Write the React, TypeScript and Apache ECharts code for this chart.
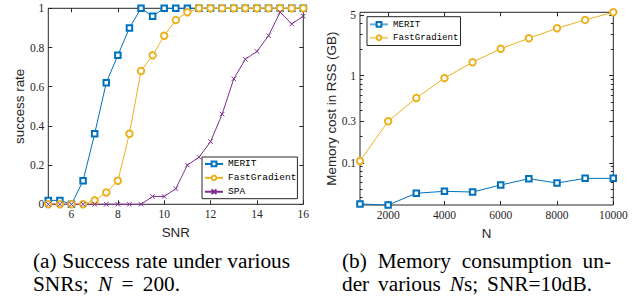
import React, { useEffect, useRef } from 'react';
import * as echarts from 'echarts';

// ---------- data ----------
const SNR = [5, 5.5, 6, 6.5, 7, 7.5, 8, 8.5, 9, 9.5, 10, 10.5, 11, 11.5, 12, 12.5, 13, 13.5, 14, 14.5, 15, 15.5, 16];
const MERIT_RATE = [0.02, 0.02, 0, 0.12, 0.36, 0.62, 0.76, 0.9, 1, 0.96, 1, 1, 1, 1, 1, 1, 1, 1, 1, 1, 1, 1, 1];
const FG_RATE = [0, 0, 0, 0, 0.02, 0.06, 0.12, 0.36, 0.68, 0.76, 0.86, 0.94, 0.98, 1, 1, 1, 1, 1, 1, 1, 1, 1, 1];
const SPA_RATE = [0, 0, 0, 0, 0, 0, 0, 0, 0, 0.04, 0.04, 0.08, 0.2, 0.24, 0.32, 0.46, 0.64, 0.74, 0.78, 0.86, 0.98, 0.92, 0.96];
const SNR_TICKS = [6, 8, 10, 12, 14, 16];

const NS = [1000, 2000, 3000, 4000, 5000, 6000, 7000, 8000, 9000, 10000];
const MERIT_MEM = [0.0336, 0.0327, 0.0446, 0.047, 0.0461, 0.0555, 0.0656, 0.0585, 0.0662, 0.0662];
const FG_MEM = [0.1045, 0.3, 0.555, 0.94, 1.43, 2.04, 2.7, 3.51, 4.38, 5.36];
const N_TICKS = [2000, 4000, 6000, 8000, 10000];
const MEM_TICKS = [0.1, 0.3, 1, 5];
const MEM_MINOR_TICKS = [0.04, 0.05, 0.06, 0.07, 0.08, 0.09, 0.2, 0.4, 0.5, 0.6, 0.7, 0.8, 0.9, 2, 3, 4];

const NAMES = ['MERIT', 'FastGradient', 'SPA'];
// words of each caption line; *…* marks italic (math) text
const CAPTION_A1 = ['(a)', 'Success', 'rate', 'under', 'various'];
const CAPTION_A2 = ['SNRs;', '*N*', '=', '200.'];
const CAPTION_B1 = ['(b)', 'Memory', 'consumption', 'un-'];
const CAPTION_B2 = ['der', 'various', '*N*s;', 'SNR=10dB.'];

// ---------- style ----------
const AXIS = '#262626';
const SERIF = 'Liberation Serif';
const SANS = 'Liberation Sans';
const MONO = 'Liberation Mono';
const BLUE = '#0072BD';
const YELLOW = '#EDB120';
const PURPLE = '#7E2F8E';
const X_MARK = 'path://M0,0L10,10M10,0L0,10';
const CAP_SIZE = 21.3;

const lg = (v: number) => Math.log10(v);

function justify(words: string[], x0: number, x1: number, y: number) {
  const ctx = document.createElement('canvas').getContext('2d')!;
  const measure = (t: string, italic: boolean) => {
    ctx.font = `${italic ? 'italic ' : ''}${CAP_SIZE}px "${SERIF}"`;
    return ctx.measureText(t).width;
  };
  const parsed = words.map((w) => {
    const parts = w.split('*');
    const segs = parts.map((t, i) => ({ t, it: i % 2 === 1 })).filter((s) => s.t.length > 0);
    const width = segs.reduce((a, s) => a + measure(s.t, s.it), 0);
    const text = segs.map((s) => `{${s.it ? 'i' : 'r'}|${s.t}}`).join('');
    return { width, text };
  });
  const total = parsed.reduce((a, p) => a + p.width, 0);
  const gap = (x1 - x0 - total) / (words.length - 1);
  let x = x0;
  return parsed.map((p) => {
    const el = {
      type: 'text',
      x,
      y,
      style: {
        text: p.text,
        align: 'left',
        verticalAlign: 'middle',
        rich: {
          r: { fontFamily: SERIF, fontSize: CAP_SIZE, fill: '#000' },
          i: { fontFamily: SERIF, fontSize: CAP_SIZE, fontStyle: 'italic', fill: '#000' },
        },
      },
    };
    x += p.width + gap;
    return el;
  });
}

const tick = (len: number, values: number[]) => ({
  show: true,
  inside: true,
  length: len,
  customValues: values,
  lineStyle: { color: AXIS, width: 1 },
});

const labelStyle = { fontFamily: SERIF, fontSize: 11.5, color: AXIS, margin: 4 };
const nameStyle = { fontFamily: SANS, fontSize: 13.4, color: AXIS };
const noLine = { show: false, onZero: false };

export default function App() {
  const ref = useRef<HTMLDivElement>(null);

  useEffect(() => {
    if (!ref.current) return;
    const chart = echarts.init(ref.current, null, { renderer: 'svg' });

    const G1 = { left: 48.3, top: 8.3, width: 255, height: 196 };
    const G2 = { left: 360, top: 12.3, width: 253.3, height: 192.7 };
    const memMin = lg(Math.min(...MERIT_MEM, ...FG_MEM));
    const memMax = lg(Math.max(...MERIT_MEM, ...FG_MEM));
    const memFmt = (v: number) => String(Number(Math.pow(10, v).toPrecision(2)));

    const baseAxis = { type: 'value', axisLine: noLine, splitLine: { show: false } };

    const option: any = {
      animation: false,
      backgroundColor: '#fff',
      grid: [
        { ...G1, show: true, borderColor: AXIS, borderWidth: 1, containLabel: false, outerBoundsMode: 'none' },
        { ...G2, show: true, borderColor: AXIS, borderWidth: 1, containLabel: false, outerBoundsMode: 'none' },
        { ...G2, show: false, containLabel: false, outerBoundsMode: 'none' },
      ],
      xAxis: [
        {
          ...baseAxis, gridIndex: 0, position: 'bottom', min: 5, max: 16,
          axisTick: tick(4, SNR_TICKS), axisLabel: { ...labelStyle, customValues: SNR_TICKS },
          name: 'SNR', nameLocation: 'middle', nameGap: 22, nameTextStyle: nameStyle,
        },
        { ...baseAxis, gridIndex: 0, position: 'top', min: 5, max: 16, axisTick: tick(4, SNR_TICKS), axisLabel: { show: false } },
        {
          ...baseAxis, gridIndex: 1, position: 'bottom', min: 1000, max: 10000,
          axisTick: tick(4, N_TICKS),
          axisLabel: { ...labelStyle, customValues: N_TICKS, formatter: (v: number) => String(v) },
          name: 'N', nameLocation: 'middle', nameGap: 22, nameTextStyle: nameStyle,
        },
        { ...baseAxis, gridIndex: 1, position: 'top', min: 1000, max: 10000, axisTick: tick(4, N_TICKS), axisLabel: { show: false } },
        { ...baseAxis, gridIndex: 2, show: false, min: 0, max: 1 },
      ],
      yAxis: [
        {
          ...baseAxis, gridIndex: 0, position: 'left', min: 0, max: 1, interval: 0.2,
          axisTick: { show: true, inside: true, length: 4, lineStyle: { color: AXIS } },
          axisLabel: { ...labelStyle },
          name: 'success rate', nameLocation: 'middle', nameGap: 21, nameTextStyle: nameStyle,
        },
        {
          ...baseAxis, gridIndex: 0, position: 'right', min: 0, max: 1, interval: 0.2,
          axisTick: { show: true, inside: true, length: 4, lineStyle: { color: AXIS } }, axisLabel: { show: false },
        },
        {
          ...baseAxis, gridIndex: 1, position: 'left', min: memMin, max: memMax,
          axisTick: tick(4, MEM_TICKS.map(lg)),
          axisLabel: { ...labelStyle, customValues: MEM_TICKS.map(lg), formatter: memFmt },
          name: 'Memory cost in RSS (GB)', nameLocation: 'middle', nameGap: 20, nameTextStyle: nameStyle,
        },
        {
          ...baseAxis, gridIndex: 1, position: 'right', min: memMin, max: memMax,
          axisTick: tick(4, MEM_TICKS.map(lg)), axisLabel: { show: false },
        },
        {
          ...baseAxis, gridIndex: 2, position: 'left', min: memMin, max: memMax,
          axisTick: tick(2.5, MEM_MINOR_TICKS.map(lg)), axisLabel: { show: false },
        },
        {
          ...baseAxis, gridIndex: 2, position: 'right', min: memMin, max: memMax,
          axisTick: tick(2.5, MEM_MINOR_TICKS.map(lg)), axisLabel: { show: false },
        },
      ],
      legend: [
        {
          data: NAMES, orient: 'vertical', left: 202, top: 157,
          itemWidth: 18, itemHeight: 6, itemGap: 0, padding: [0, 1, 0, 2],
          borderColor: AXIS, borderWidth: 1, backgroundColor: '#fff',
          selectedMode: false,
          textStyle: { fontFamily: MONO, fontSize: 9.5, color: '#000', lineHeight: 13.9 },
        },
        {
          data: NAMES.slice(0, 2), orient: 'vertical', left: 367, top: 16.7,
          itemWidth: 18, itemHeight: 6, itemGap: 0, padding: [1, 2, 1, 2],
          borderColor: AXIS, borderWidth: 1, backgroundColor: '#fff',
          selectedMode: false,
          lineStyle: { width: 2, opacity: 0.6 },
          textStyle: { fontFamily: MONO, fontSize: 9.1, color: '#000', lineHeight: 13.4 },
        },
      ],
      series: [
        {
          name: 'MERIT', type: 'line', xAxisIndex: 0, yAxisIndex: 0, clip: false,
          data: SNR.map((x, i) => [x, MERIT_RATE[i]]),
          symbol: 'emptyRect', symbolSize: 5.5,
          lineStyle: { color: BLUE, width: 1 }, itemStyle: { color: BLUE, borderWidth: 1 },
        },
        {
          name: 'FastGradient', type: 'line', xAxisIndex: 0, yAxisIndex: 0, clip: false,
          data: SNR.map((x, i) => [x, FG_RATE[i]]),
          symbol: 'emptyCircle', symbolSize: 6.5,
          lineStyle: { color: YELLOW, width: 1 }, itemStyle: { color: YELLOW, borderWidth: 1 },
        },
        {
          name: 'SPA', type: 'line', xAxisIndex: 0, yAxisIndex: 0, clip: false,
          data: SNR.map((x, i) => [x, SPA_RATE[i]]),
          symbol: X_MARK, symbolSize: 4.5,
          lineStyle: { color: PURPLE, width: 1 }, itemStyle: { color: PURPLE, borderColor: PURPLE, borderWidth: 1 },
        },
        {
          name: 'MERIT', type: 'line', xAxisIndex: 2, yAxisIndex: 2, clip: false,
          data: NS.map((x, i) => [x, lg(MERIT_MEM[i])]),
          symbol: 'emptyRect', symbolSize: 5.5,
          lineStyle: { color: BLUE, width: 1 }, itemStyle: { color: BLUE, borderWidth: 1 },
        },
        {
          name: 'FastGradient', type: 'line', xAxisIndex: 2, yAxisIndex: 2, clip: false,
          data: NS.map((x, i) => [x, lg(FG_MEM[i])]),
          symbol: 'emptyCircle', symbolSize: 6.5,
          lineStyle: { color: YELLOW, width: 1 }, itemStyle: { color: YELLOW, borderWidth: 1 },
        },
      ],
      graphic: [
        ...justify(CAPTION_A1, 33, 290, 261),
        ...justify(CAPTION_A2, 33, 180, 284),
        ...justify(CAPTION_B1, 342, 611, 261),
        ...justify(CAPTION_B2, 342, 592, 284),
      ],
    };

    chart.setOption(option);
    return () => chart.dispose();
  }, []);

  return <div ref={ref} style={{ position: 'fixed', left: 0, top: 0, width: 644, height: 301 }} />;
}
